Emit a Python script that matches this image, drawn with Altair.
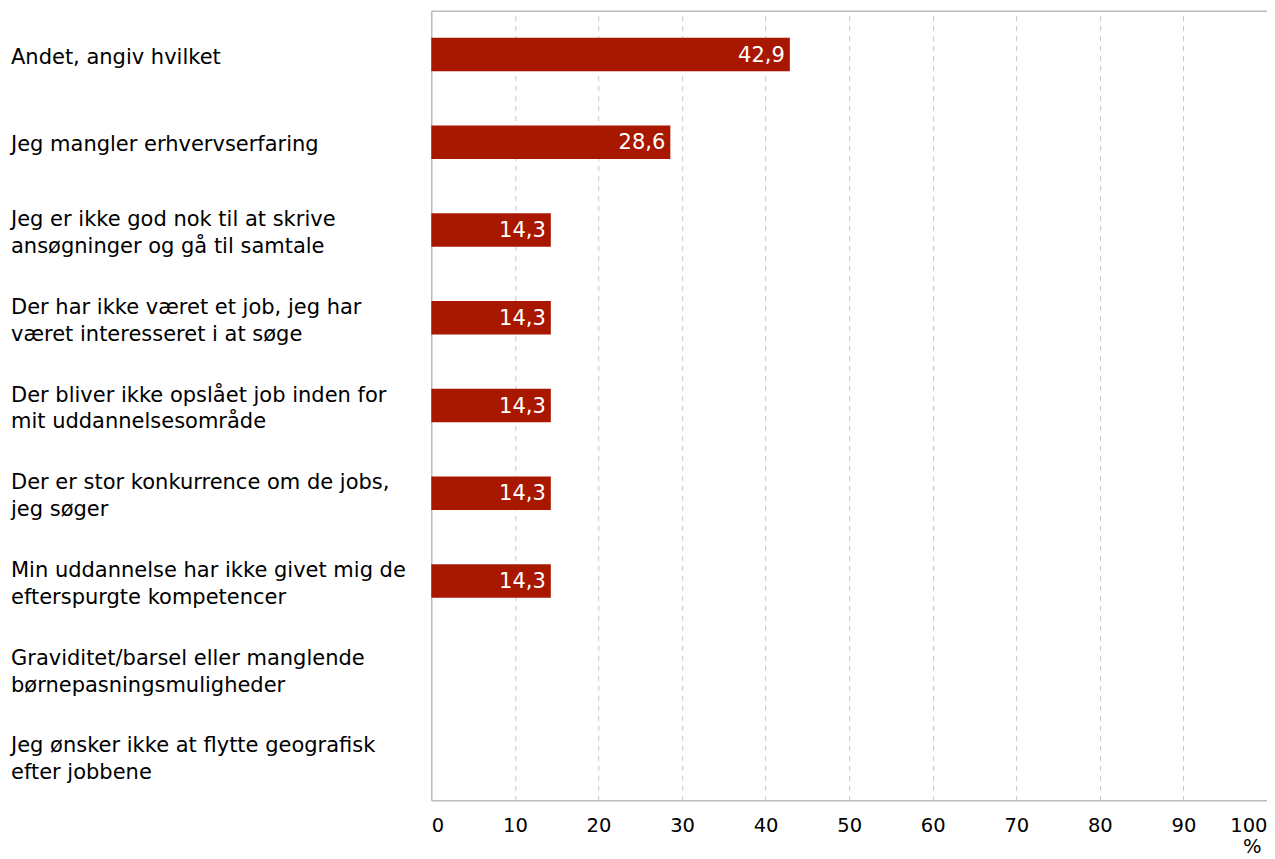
import altair as alt
import pandas as pd

categories = [
    "Andet, angiv hvilket",
    "Jeg mangler erhvervserfaring",
    "Jeg er ikke god nok til at skrive|ansøgninger og gå til samtale",
    "Der har ikke været et job, jeg har|været interesseret i at søge",
    "Der bliver ikke opslået job inden for|mit uddannelsesområde",
    "Der er stor konkurrence om de jobs,|jeg søger",
    "Min uddannelse har ikke givet mig de|efterspurgte kompetencer",
    "Graviditet/barsel eller manglende|børnepasningsmuligheder",
    "Jeg ønsker ikke at flytte geografisk|efter jobbene",
]
values = [42.9, 28.6, 14.3, 14.3, 14.3, 14.3, 14.3, 0.0, 0.0]
ticks = [0, 10, 20, 30, 40, 50, 60, 70, 80, 90, 100]

df = pd.DataFrame({"cat": categories, "v": values})
FONT = "DejaVu Sans"
RED = "#A81700"
FS = 21
W = 836

y = alt.Y("cat:N", sort=categories, title=None,
          scale=alt.Scale(paddingInner=0.62, paddingOuter=0.31),
          axis=alt.Axis(labelAlign="left", labelPadding=421, labelBaseline="middle",
                        labelExpr="split(datum.label, '|')", labelLineHeight=27,
                        labelOffset={"condition": {"test": "indexof(datum.label, '|') >= 0",
                                                   "value": -10},
                                     "value": 3},
                        labelFont=FONT, labelFontSize=FS, labelColor="#000000",
                        labelLimit=0, domain=False, ticks=False, grid=False))
x = alt.X("v:Q", title="%",
          scale=alt.Scale(domain=[0, 100], nice=False),
          axis=alt.Axis(values=ticks, labelFont=FONT, labelFontSize=19.5, labelColor="#000000",
                        labelFlush=True, labelPadding=16, ticks=False, domain=False,
                        grid=True,
                        gridColor={"condition": {"test": "datum.value == 0 || datum.value == 100",
                                                 "value": "transparent"},
                                   "value": "#c8c8c8"},
                        gridDash=[5, 5], gridWidth=1,
                        titleFont=FONT, titleFontSize=19.5, titleFontWeight="normal",
                        titleColor="#000000", titleAnchor="end", titleAlign="right",
                        titlePadding=0, titleX=W - 6, titleY=52, titleBaseline="alphabetic"))

bars = alt.Chart(df).mark_bar(color=RED).encode(x=x, y=y)

labels = alt.Chart(df).transform_filter("datum.v > 0").transform_calculate(
    lab="replace(format(datum.v, '.1f'), '.', ',')"
).mark_text(align="right", baseline="middle", dx=-5, dy=1, color="white",
            font=FONT, fontSize=FS).encode(
    x=alt.X("v:Q"), y=alt.Y("cat:N", sort=categories), text="lab:N")

chart = alt.layer(bars, labels).properties(
    width=W, height=790,
    background="white",
    autosize=alt.AutoSizeParams(type="none"),
    padding={"left": 423.5, "top": 2.5, "right": 0, "bottom": 56},
).configure_view(stroke="#9a9a9a", strokeWidth=1)

chart.save("out.html", embed_options={"renderer": "svg", "actions": False})
